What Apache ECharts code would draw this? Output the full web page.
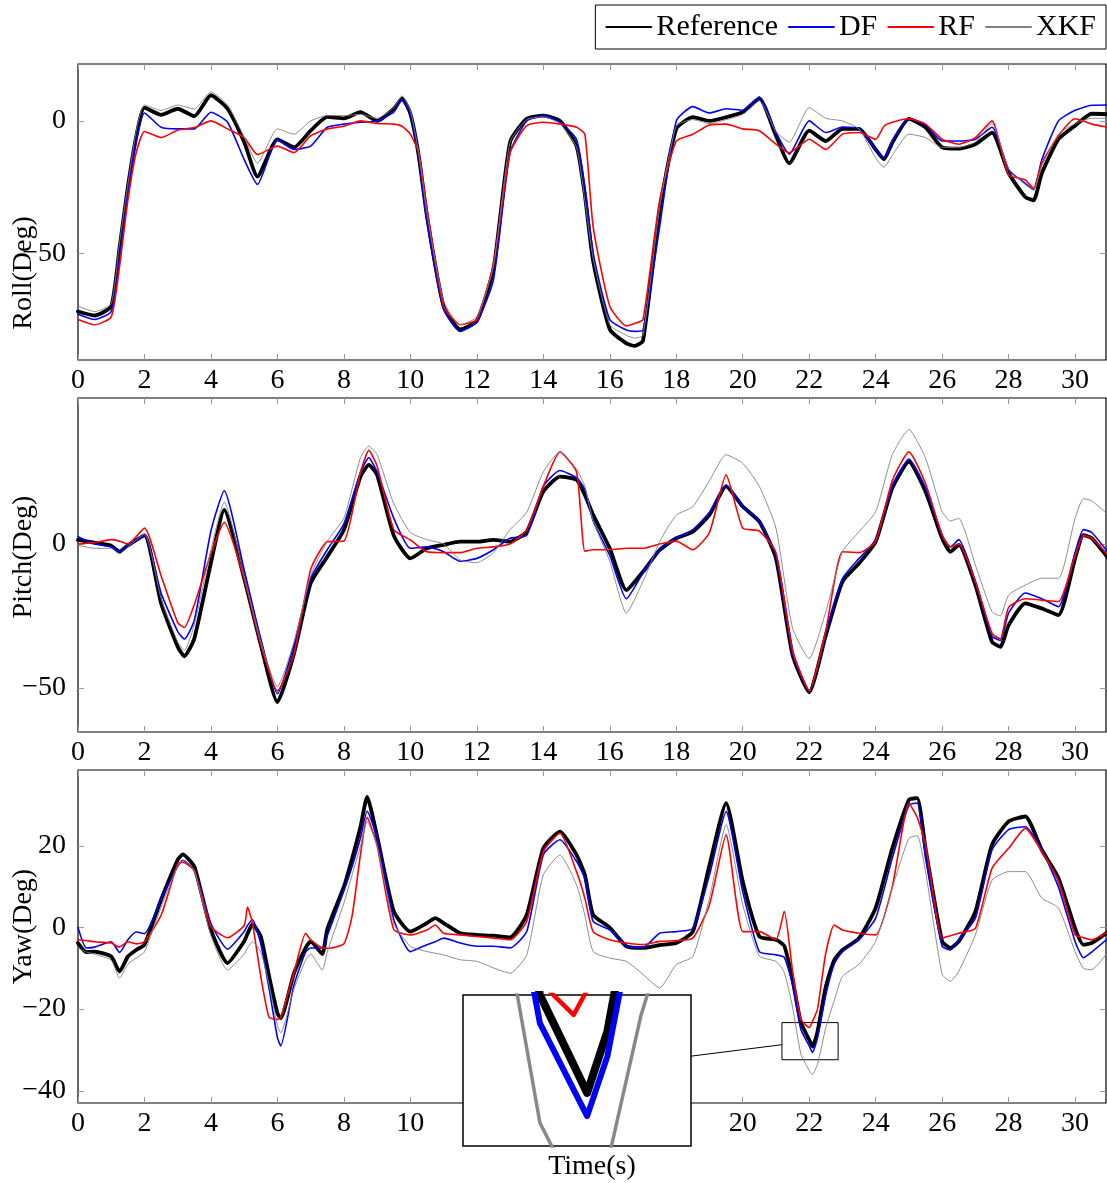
<!DOCTYPE html>
<html>
<head>
<meta charset="utf-8">
<script src="https://cdn.jsdelivr.net/npm/echarts@6/dist/echarts.min.js"></script>
<style>
html, body { margin: 0; padding: 0; background: #fff; }
#chart { width: 1107px; height: 1183px; }
</style>
</head>
<body>
<div id="chart"></div>
<script>
// series names, in drawing order
const seriesNames = ['Reference', 'DF', 'RF', 'XKF'];

// tick values
const xTicks = [0, 2, 4, 6, 8, 10, 12, 14, 16, 18, 20, 22, 24, 26, 28, 30];
const rollTicks = [-50, 0];
const pitchTicks = [-50, 0];
const yawTicks = [-40, -20, 0, 20];

// axis extents
const xMax = 30.93;
const rollRange = [-90.3, 21.5];
const pitchRange = [-65.3, 50.7];
const yawRange = [-43.0, 38.6];

// spy window on the yaw plot (time, degrees)
const zoomX = [21.18, 22.87];
const zoomY = [-32.4, -23.3];

// ---- Roll ----
const rollTime = [0,0.5,1,1.25,1.5,1.75,2,2.5,3,3.5,4,4.5,5,5.4,6,6.5,7,7.5,8,8.5,9,9.5,9.75,10,10.25,10.5,11,11.5,12,12.5,13,13.5,14,14.5,15,15.25,15.5,16,16.5,16.75,17,17.5,18,18.5,19,19.5,20,20.5,21,21.4,22,22.5,23,23.5,24,24.25,24.5,25,25.5,26,26.5,27,27.5,28,28.5,28.75,29,29.5,30,30.5,31];
const rollRef = [-72,-73.5,-70,-48,-25,-6,5,2.3,4.6,1.8,9.7,4.6,-8,-21,-7,-10,-3.7,1.5,1,3.3,0,4.6,8.5,2.7,-13,-36,-70,-78.7,-75.5,-56,-8,0.8,2,0,-9.5,-28,-53,-78.7,-84,-85,-83,-34,-3,1.4,0,1.4,3.3,8.5,-5.6,-16,-3.7,-7.6,-3,-3,-10.8,-14.5,-8.2,0.8,-2.4,-10,-10.5,-8.8,-4.4,-19.7,-28.7,-30,-19.7,-6.9,-1.8,2.7,2.5];
const rollDF = [-73,-75,-72,-52,-27,-8,3,-2.4,-3,-3,3.3,-0.5,-14.6,-24,-7,-10.8,-9.5,-2.4,-1.2,-0.5,0,3.3,8,3,-13,-38,-71,-79.5,-76,-60,-12,0,2,-0.5,-7,-25,-50,-75,-79,-79.5,-79,-40,0,5.4,3,4.6,4,9,-4.4,-12.5,0,-4.4,-2.3,-3,-10.8,-14,-7.6,0.8,-1.5,-7.6,-7.6,-6.9,-2.4,-18.5,-23.6,-26,-14.6,0,4,5.9,6];
const rollRF = [-75,-77,-74,-55,-30,-12,-4,-6.3,-3.5,-2.5,0,-3,-6.3,-12.7,-9.5,-12,-5.6,-3,-2,0,-1,-1.2,-2,-5,-12,-33,-70,-77,-75,-54,-12,-1.8,-0.5,-1.2,-2.4,-5,-40,-70,-77.4,-76.5,-75,-30,-7.6,-5,-1.5,-1.2,-3,-3.7,-8.8,-12,-6.9,-10.8,-5,-4.4,-6.9,-2,-0.5,0.8,-1.2,-6.9,-8.8,-6.3,0,-20.4,-22.3,-25.5,-15.9,-5.6,0.8,-1.2,-2.4];
const rollXKF = [-70,-72,-69,-46,-24,-4,6,4,6,4.5,11,6,-6,-16,-3,-5,0,2,2,2.5,1,5,9.5,4,-12,-35,-68,-77,-74,-55,-8,0.5,1.5,-1,-10,-30,-52,-77,-81,-82,-81,-33,-2,0.5,-1,0.5,2.5,7.5,-4,-8,5,1,0,-3,-14,-17.5,-13,-5,-6.3,-10,-10,-8,-1,-18,-24,-26,-17,-5,-1,1,1];

// ---- Pitch ----
const pitchTime = [0,0.5,1,1.25,1.5,2,2.5,3,3.2,3.5,4,4.4,5,5.5,6,6.5,7,7.5,8,8.5,8.75,9,9.5,10,10.5,11,11.5,12,12.5,13,13.5,14,14.5,15,15.25,15.5,16,16.5,17,17.5,18,18.5,19,19.5,20,20.5,21,21.5,22,22.5,23,23.5,24,24.5,25,25.5,26,26.25,26.5,27,27.5,27.75,28,28.5,29,29.5,30,30.25,30.5,31];
const pitchRef = [1.4,0.5,-0.6,-2.6,-0.5,3,-20.6,-35.7,-39,-32.8,-6.5,11.8,-12,-35,-54.9,-38,-13.6,-4.4,4.9,23.4,27.5,24,3,-5,-1.5,-0.3,0.8,0.8,1.4,0.8,4.3,18.2,23.4,22.3,17,10.1,-1.5,-16,-9.6,-2.1,2,4.3,10.1,20,13,7.8,-5,-38.6,-51.4,-31.7,-13.1,-6.7,0.8,19.4,28.6,18.2,2,-2.7,-0.3,-14.3,-34,-35.7,-28.2,-20.6,-22.4,-24.7,-5,3.1,2,-5];
const pitchDF = [2.5,0,-1,-2.5,-0.5,3,-17,-30.4,-33,-26.5,4.5,18.5,-9,-33,-52,-35,-12,-2,7,25,30,25,9,-1.5,-1,-2.7,-6,-5,-2,2,3,20,25.5,23,19,8,-4,-19,-10,-2,2,5,11,20.5,13,8,-4,-38,-51,-31,-12,-5,1.5,20,29.5,19.5,3,-1,1.5,-13,-32,-33.5,-24,-17,-19,-21.8,-3,5,4,-3];
const pitchRF = [0,0.5,1.5,1,0,5.5,-11,-27.3,-29,-21,-3.3,7.5,-12,-35,-51,-38,-8.9,0.8,1,25,32.5,27,5,1.4,-2.7,-3,-3,-1.5,-1,0,4.9,20,32,25,-2.5,-2,-2,-1.5,-1.5,0,1,-2,4,24,5.5,4.5,-3,-37,-51,-30,-2.7,-3,1,22,32,21,3,-1,0,-13,-31,-33,-22,-19,-19.5,-20,-4,3,2,-4];
const pitchXKF = [-0.5,-1.5,-1.5,-3.5,-1,3.5,-19,-34,-37,-28,-2,14.5,-11,-34,-49.5,-34,-11,1,9,30,34,31,14,4,1.5,0,-5.6,-6.5,-3,5,11,25,32,26,20,8,-6,-24,-13,0.8,10,13,22,31,28,20,5.5,-29.3,-39.8,-23.5,-2.7,4.3,11.2,31,39.7,29.8,11.2,8,8.9,-7.3,-23.5,-25,-17.7,-14.3,-11.9,-11.9,8.9,15.7,15,10];

// ---- Yaw ----
const yawTime = [0,0.25,0.5,1,1.25,1.5,1.75,2,2.5,3,3.15,3.5,4,4.5,5,5.1,5.25,5.5,5.75,6,6.1,6.5,6.85,7,7.35,7.5,8,8.25,8.5,8.7,9,9.5,10,10.5,10.75,11,11.5,12,12.5,13,13.5,14,14.5,15,15.25,15.5,16,16.5,17,17.5,18,18.5,19,19.5,20,20.5,21,21.25,21.5,21.75,22,22.1,22.25,22.5,22.75,23,23.5,24,24.5,25,25.25,25.5,26,26.25,26.5,27,27.5,28,28.5,29,29.5,30,30.25,30.5,31];
const yawRef = [-3.8,-6,-5.9,-7.1,-10.8,-7.1,-5.5,-4.2,6.8,16.6,17.9,14.9,-0.6,-8.7,-3.4,-1.5,0.8,-2.2,-12,-21,-22.2,-11.2,-5,-3.4,-6.5,-0.4,10,17,24.7,32,22.3,4,-1,1.1,2.3,1.1,-1.4,-1.8,-2,-2.4,3.1,19.4,23.5,17.8,12.9,3.1,0,-4.6,-5,-4.3,-3.8,-1,15.3,30.5,11.3,-2.2,-3,-4.5,-12.8,-23.3,-27.5,-29.2,-25.5,-14.5,-8,-5.5,-2.6,4.8,19.4,31.3,31.7,19.4,-3.4,-5,-3.4,3.9,20.3,26,27.2,19,12.1,-0.2,-4.2,-3.8,-1];
const yawDF = [0,-5,-4.8,-3.5,-6.1,-3,-1.1,-1.5,7,15,16.5,14,1,-5.3,-1,0.5,1.9,-4,-15,-27,-29,-14,-6,-5,-5,-2,9,15,22,28.5,22,2,-5.9,-4.2,-3.5,-2.6,-3.8,-4.6,-4.6,-5,-1,17.8,21.5,16.2,12,1.5,-0.6,-4.6,-4.9,-1.4,-1,-0.2,12.9,28.4,8.8,-5.9,-6.7,-7.3,-14,-25,-29,-30.6,-27,-16.5,-9,-5.9,-3,2.3,17,30,30.5,17,-4.6,-5.5,-3,2.3,19,24,24.7,19,9.9,-3.4,-7.4,-6,-2.6];
const yawRF = [-3,-3.2,-3.5,-3.8,-4.8,-3.5,-4,-3.5,3,15.6,16,13.9,0.2,-2.5,0.5,5,1,-12,-22,-22.5,-22,-11,-1.4,-3,-5,-5.1,-4,3,18,27,20,-0.5,-1.8,-0.6,0.6,-1.4,-1.8,-2.2,-2.6,-3,1.5,18.6,23.1,13.7,7.2,-1,-3,-3.8,-4.2,-3.4,-3.2,-2.6,5.6,22.7,-1,-1,-3,4,-10.7,-22.5,-24.5,-23,-20,-6.2,0.6,-0.6,-1.4,-1.8,10,30.4,27,20.3,-2.6,-2,-1.4,-0.2,14.5,19.4,24.3,18.6,11.3,-1.8,-2.5,-3,-1];
const yawXKF = [-5,-6,-6.5,-8,-12.4,-9,-7.5,-6,5,15,16.5,14,-2,-10.4,-6.5,-5,-3.5,-6,-14,-24,-25.8,-15,-8,-6.5,-10.4,-6,6,13,20,26,20,1,-4.6,-5.9,-6.3,-6.7,-7.9,-8.3,-9.9,-11.2,-6.7,12.9,17.8,10.4,3,-5.9,-7.5,-8.3,-11.5,-14.8,-9.1,-7.1,7.2,25.2,5.6,-7,-8.3,-11,-19.5,-31,-35,-36,-33.5,-24.5,-18,-12,-9,-3.4,9.7,21.9,22.5,13.7,-11.5,-13.2,-10.7,-1.8,11.6,13.7,13.7,7.2,4.8,-5.9,-10,-10.3,-5.9];

const FONT = "'Liberation Serif', 'DejaVu Serif', serif";
const colors = ['#000000', '#0000ff', '#ff0000', '#808080'];
const widths = [3.8, 1.6, 1.6, 0.9];
const insetWidths = [8, 6, 4.5, 3.5];
const insetBox = { x: 463, y: 995, w: 228, h: 151 };

const panels = [
    { title: 'Roll(Deg)', top: 64, height: 296, range: rollRange, ticks: rollTicks,
      time: rollTime, values: [rollRef, rollDF, rollRF, rollXKF], nameShift: 61, nameBg: true },
    { title: 'Pitch(Deg)', top: 398, height: 334, range: pitchRange, ticks: pitchTicks,
      time: pitchTime, values: [pitchRef, pitchDF, pitchRF, pitchXKF], nameShift: -8 },
    { title: 'Yaw(Deg)', top: 770, height: 333, range: yawRange, ticks: yawTicks,
      time: yawTime, values: [yawRef, yawDF, yawRF, yawXKF], nameShift: -10 }
];

function fmt(v) {
    return v < 0 ? '\u2212' + Math.abs(v) : String(v);
}

// rotated name: padding on one side moves the text along the axis
function namePadding(shift) {
    return shift > 0 ? [0, 2 * shift, 0, 0] : [0, 0, 0, -2 * shift];
}

function pairs(time, vals) {
    return time.map((t, j) => [t, vals[j]]);
}

const chart = echarts.init(document.getElementById('chart'));

const grid = [];
const xAxis = [];
const yAxis = [];
const series = [];
const tickStyle = { inside: true, length: 6, lineStyle: { color: '#999', width: 1 } };
const noLine = { show: false, onZero: false };

panels.forEach((p, i) => {
    const last = i === panels.length - 1;
    grid.push({ left: 78, right: 1, top: p.top, height: p.height, show: true,
        containLabel: false, outerBoundsMode: 'none',
        borderColor: '#000', borderWidth: 1.2, backgroundColor: 'transparent' });

    xAxis.push({
        gridIndex: i, type: 'value', min: 0, max: xMax, position: 'bottom',
        axisLine: noLine,
        axisTick: { ...tickStyle, customValues: xTicks },
        axisLabel: { customValues: xTicks, fontFamily: FONT, fontSize: 28, color: '#000', margin: 7 },
        splitLine: { show: false },
        name: last ? 'Time(s)' : '',
        nameLocation: 'middle',
        nameGap: 50,
        nameMoveOverlap: false,
        nameTextStyle: { fontFamily: FONT, fontSize: 28, color: '#000' }
    });
    xAxis.push({
        gridIndex: i, type: 'value', min: 0, max: xMax, position: 'top',
        axisLine: noLine,
        axisTick: { ...tickStyle, customValues: xTicks },
        axisLabel: { show: false },
        splitLine: { show: false }
    });

    yAxis.push({
        gridIndex: i, type: 'value', min: p.range[0], max: p.range[1], position: 'left',
        axisLine: noLine,
        axisTick: { ...tickStyle, customValues: p.ticks },
        axisLabel: { customValues: p.ticks, formatter: fmt, fontFamily: FONT, fontSize: 28, color: '#000', margin: 12 },
        splitLine: { show: false },
        name: p.title,
        nameLocation: 'middle',
        nameGap: 40,
        nameMoveOverlap: false,
        nameTextStyle: {
            fontFamily: FONT, fontSize: 28, color: '#000',
            padding: namePadding(p.nameShift),
            backgroundColor: p.nameBg ? '#fff' : 'transparent'
        }
    });
    yAxis.push({
        gridIndex: i, type: 'value', min: p.range[0], max: p.range[1], position: 'right',
        axisLine: noLine,
        axisTick: { ...tickStyle, customValues: p.ticks },
        axisLabel: { show: false },
        splitLine: { show: false }
    });

    seriesNames.forEach((name, k) => {
        const s = {
            type: 'line', name: name,
            xAxisIndex: 2 * i, yAxisIndex: 2 * i,
            data: pairs(p.time, p.values[k]),
            showSymbol: false, symbol: 'none',
            smooth: 0.18,
            lineStyle: { color: colors[k], width: widths[k], join: 'round', cap: 'round' },
            itemStyle: { color: colors[k] },
            animation: false
        };
        if (last && k === 0) {
            s.markArea = {
                silent: true,
                itemStyle: { color: 'rgba(0,0,0,0)', borderColor: '#000', borderWidth: 1 },
                data: [[{ coord: [zoomX[0], zoomY[1]] }, { coord: [zoomX[1], zoomY[0]] }]]
            };
        }
        series.push(s);
    });
});

// magnified view of the yaw spy window
const insetGrid = grid.length;
grid.push({ left: insetBox.x, top: insetBox.y, width: insetBox.w, height: insetBox.h, show: true,
    containLabel: false, outerBoundsMode: 'none',
    backgroundColor: '#fff', borderColor: '#000', borderWidth: 1.5, z: 10 });
xAxis.push({ gridIndex: insetGrid, type: 'value', min: zoomX[0], max: zoomX[1], show: false });
yAxis.push({ gridIndex: insetGrid, type: 'value', min: zoomY[0], max: zoomY[1], show: false });
const insetAxis = xAxis.length - 1;
seriesNames.forEach((name, k) => {
    series.push({
        type: 'line', name: name,
        xAxisIndex: insetAxis, yAxisIndex: insetAxis,
        data: pairs(yawTime, panels[2].values[k]),
        showSymbol: false, symbol: 'none', clip: true,
        lineStyle: { color: k === 3 ? '#888888' : colors[k], width: insetWidths[k], join: 'round' },
        itemStyle: { color: colors[k] },
        z: 12,
        animation: false
    });
});

chart.setOption({
    animation: false,
    backgroundColor: '#fff',
    legend: {
        data: seriesNames,
        right: 1, top: 5,
        itemWidth: 45, itemHeight: 14, itemGap: 10,
        padding: [7, 10],
        borderColor: '#000', borderWidth: 1,
        selectedMode: false,
        itemStyle: { opacity: 0 },
        textStyle: { fontFamily: FONT, fontSize: 30, color: '#000' }
    },
    grid: grid,
    xAxis: xAxis,
    yAxis: yAxis,
    series: series
});

// connector between spy window and inset
const yawAxis = 4;
const a = chart.convertToPixel({ xAxisIndex: yawAxis, yAxisIndex: yawAxis }, [zoomX[0], zoomY[1]]);
const b = chart.convertToPixel({ xAxisIndex: yawAxis, yAxisIndex: yawAxis }, [zoomX[1], zoomY[0]]);
const spyBox = { x: a[0], y: a[1], w: b[0] - a[0], h: b[1] - a[1] };
const center = box => [box.x + box.w / 2, box.y + box.h / 2];
function edgePoint(box, dx, dy) {
    const c = center(box);
    const s = Math.min((box.w / 2) / Math.max(Math.abs(dx), 1e-9), (box.h / 2) / Math.max(Math.abs(dy), 1e-9));
    return [c[0] + dx * s, c[1] + dy * s];
}
const c1 = center(insetBox);
const c2 = center(spyBox);
const dx = c2[0] - c1[0];
const dy = c2[1] - c1[1];
const p1 = edgePoint(insetBox, dx, dy);
const p2 = edgePoint(spyBox, -dx, -dy);
chart.setOption({
    graphic: [{
        type: 'line', silent: true, z: 20,
        shape: { x1: p1[0], y1: p1[1], x2: p2[0], y2: p2[1] },
        style: { stroke: '#000', lineWidth: 1 }
    }]
});
</script>
</body>
</html>
